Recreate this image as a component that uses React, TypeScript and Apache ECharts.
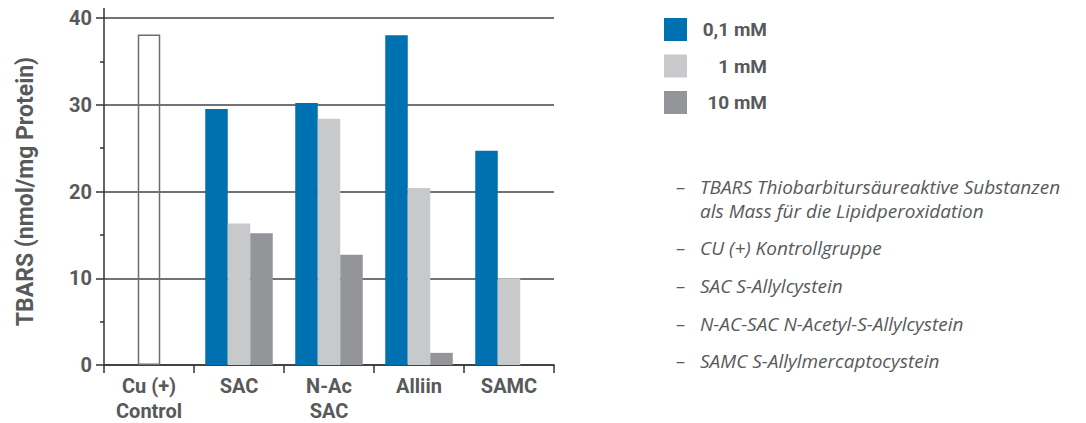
import React, { useEffect, useRef } from "react";
import * as echarts from "echarts";

const categories = ["Cu (+)\nControl", "SAC", "N-Ac\nSAC", "Alliin", "SAMC"];
const seriesNames = ["0,1 mM", "1 mM", "10 mM"];
const control = [38.1, null, null, null, null];
const v01 = [null, 29.5, 30.2, 38.0, 24.7];
const v1 = [null, 16.3, 28.4, 20.4, 10.0];
const v10 = [null, 15.2, 12.7, 1.4, null];
const yTicks = [0, 10, 20, 30, 40];
const notes = [
  "TBARS Thiobarbitursäureaktive Substanzen\nals Mass für die Lipidperoxidation",
  "CU (+) Kontrollgruppe",
  "SAC S-Allylcystein",
  "N-AC-SAC N-Acetyl-S-Allylcystein",
  "SAMC S-Allylmercaptocystein",
];

const BLUE = "#0071B0";
const LIGHT = "#C8C9CB";
const DARK = "#939598";
const TEXT = "#58595B";
const FONT = "Roboto, 'Liberation Sans', sans-serif";
const NOTE_FONT = "'Open Sans', Roboto, sans-serif";

export default function App() {
  const ref = useRef<HTMLDivElement>(null);
  useEffect(() => {
    if (!ref.current) return;
    const chart = echarts.init(ref.current, undefined, { renderer: "svg" });
    const lightData = v1.map((v, i) =>
      control[i] != null
        ? {
            value: control[i],
            itemStyle: { color: "rgba(255,255,255,0)", borderColor: "#6D6E71", borderWidth: 1.5 },
          }
        : v
    );
    const noteYs = [187, 248, 286, 324, 361];
    const noteGraphics: any[] = [];
    notes.forEach((t, i) => {
      const lines = t.split("\n").length;
      noteGraphics.push({
        type: "text",
        x: 676,
        y: noteYs[i] - 12,
        style: { text: "–", fill: TEXT, font: `italic 19px ${NOTE_FONT}`, lineHeight: 24, verticalAlign: "top" },
      });
      noteGraphics.push({
        type: "text",
        x: 700,
        y: noteYs[i] - 12,
        style: {
          text: t,
          fill: TEXT,
          font: `italic 19px ${NOTE_FONT}`,
          lineHeight: 24,
          verticalAlign: "top",
          height: 24 * lines,
        },
      });
    });
    chart.setOption({
      animation: false,
      textStyle: { fontFamily: FONT },
      grid: { left: 104, width: 450, top: 18, height: 350, containLabel: false },
      legend: {
        left: 664,
        top: 18,
        padding: 0,
        orient: "vertical",
        itemWidth: 23,
        itemHeight: 23,
        itemGap: 13.5,
        icon: "rect",
        data: seriesNames,
        formatter: (name: string) => `{a|${name}}`,
        textStyle: {
          rich: {
            a: {
              width: 75,
              align: "right",
              fontSize: 19,
              fontWeight: "bold",
              color: TEXT,
              fontFamily: FONT,
            },
          },
        },
      },
      xAxis: {
        type: "category",
        data: categories,
        axisLine: { lineStyle: { color: "#333", width: 1.5 } },
        axisTick: { show: true, interval: 0, length: 8, lineStyle: { color: "#333", width: 1.5 } },
        axisLabel: {
          interval: 0,
          margin: 8,
          color: TEXT,
          fontSize: 20,
          fontWeight: "bold",
          lineHeight: 25,
          fontFamily: FONT,
        },
      },
      yAxis: {
        type: "value",
        min: yTicks[0],
        max: yTicks[yTicks.length - 1],
        interval: 10,
        name: "TBARS (nmol/mg Protein)",
        nameLocation: "middle",
        nameGap: 67,
        nameTextStyle: { color: TEXT, fontSize: 23, fontWeight: "bold", fontFamily: FONT },
        axisLine: { show: true, lineStyle: { color: "#333", width: 1.5 } },
        axisTick: { show: true, length: 8, lineStyle: { color: "#333", width: 1.5 } },
        minorTick: { show: true, splitNumber: 2, length: 4, lineStyle: { color: "#333", width: 1.5 } },
        minorSplitLine: { show: false },
        splitLine: { show: true, lineStyle: { color: "#444", width: 1.5 } },
        axisLabel: { margin: 12, color: TEXT, fontSize: 20, fontWeight: "bold", fontFamily: FONT },
      },
      series: [
        { name: seriesNames[0], type: "bar", data: v01, barWidth: 22.5, barGap: "0%", itemStyle: { color: BLUE } },
        { name: seriesNames[1], type: "bar", data: lightData, barWidth: 22.5, barGap: "0%", itemStyle: { color: LIGHT } },
        { name: seriesNames[2], type: "bar", data: v10, barWidth: 22.5, barGap: "0%", itemStyle: { color: DARK } },
      ],
      graphic: [
        {
          type: "line",
          shape: { x1: 104, y1: 8, x2: 104, y2: 18 },
          style: { stroke: "#333", lineWidth: 1.5 },
        },
        ...noteGraphics,
      ],
    });
    return () => chart.dispose();
  }, []);
  return (
    <div
      ref={ref}
      style={{ position: "fixed", left: 0, top: 0, width: 1086, height: 423, background: "#fff" }}
    />
  );
}
